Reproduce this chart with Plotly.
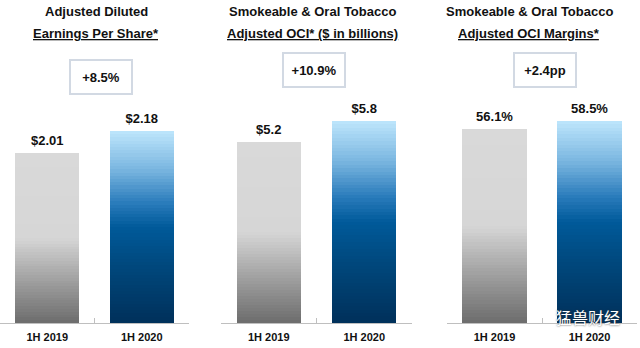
import plotly.graph_objects as go

# ---------------- data ----------------
categories = ["1H 2019", "1H 2020"]
eps_values = [2.01, 2.18]
oci_values = [5.2, 5.8]
margin_values = [56.1, 58.5]
eps_labels = ["$2.01", "$2.18"]
oci_labels = ["$5.2", "$5.8"]
margin_labels = ["56.1%", "58.5%"]
title_line1 = ["Adjusted Diluted", "Smokeable & Oral Tobacco", "Smokeable & Oral Tobacco"]
title_line2 = ["Earnings Per Share*", "Adjusted OCI* ($ in billions)", "Adjusted OCI Margins*"]
changes = ["+8.5%", "+10.9%", "+2.4pp"]

# ---------------- styling ----------------
FONT = "Arial, Liberation Sans, sans-serif"
N_SEG = 60
W, H = 640, 348

gray_stops = [(0.0, (108, 108, 108)), (0.25, (160, 160, 160)), (0.5, (214, 214, 214)), (1.0, (217, 217, 217))]
blue_stops = [(0.0, (0, 48, 90)), (0.3, (0, 72, 125)), (0.5, (0, 90, 154)), (0.62, (40, 122, 186)),
              (0.8, (122, 182, 224)), (1.0, (190, 230, 252))]


def interp(stops, f):
    for (f0, c0), (f1, c1) in zip(stops[:-1], stops[1:]):
        if f0 <= f <= f1:
            t = (f - f0) / (f1 - f0) if f1 > f0 else 0
            c = [round(a + (b - a) * t) for a, b in zip(c0, c1)]
            return "rgb(%d,%d,%d)" % tuple(c)
    c = stops[-1][1]
    return "rgb(%d,%d,%d)" % tuple(c)


panels = [
    dict(values=eps_values, labels=eps_labels, lo=0.6962, hi=2.4396, xdom=(0 / W, 189 / W), title_x=96 / W, box=(101, 77)),
    dict(values=oci_values, labels=oci_labels, lo=0.0, hi=6.477, xdom=(221 / W, 412 / W), title_x=312 / W, box=(314, 70)),
    dict(values=margin_values, labels=margin_labels, lo=0.0, hi=65.33, xdom=(447 / W, 637 / W), title_x=529 / W, box=(545, 70)),
]

ydom = ((H - 323) / H, 0.72)

fig = go.Figure()
layout_axes = {}
annotations = []

for p_i, p in enumerate(panels):
    sfx = "" if p_i == 0 else str(p_i + 1)
    xa, ya = "x" + sfx, "y" + sfx
    vals, lo = p["values"], p["lo"]
    if lo > 0:
        fig.add_trace(go.Bar(x=categories, y=[lo] * len(vals), xaxis=xa, yaxis=ya,
                             marker=dict(color="white", line=dict(width=0)),
                             showlegend=False, hoverinfo="skip"))
    for i in range(N_SEG):
        f = (i + 0.5) / N_SEG
        fig.add_trace(go.Bar(
            x=categories, y=[(v - lo) / N_SEG for v in vals], xaxis=xa, yaxis=ya,
            marker=dict(color=[interp(gray_stops, f), interp(blue_stops, f)], line=dict(width=0)),
            showlegend=False, hoverinfo="skip"))
    fig.add_trace(go.Scatter(
        x=categories, y=vals, xaxis=xa, yaxis=ya, mode="markers+text", text=p["labels"],
        marker=dict(size=6, opacity=0),
        textposition="top center", textfont=dict(family=FONT, size=13, color="#111111", weight="bold"),
        showlegend=False, hoverinfo="skip", cliponaxis=False))

    layout_axes["xaxis" + sfx] = dict(
        domain=list(p["xdom"]), anchor=ya, type="category", range=[-0.5, 1.5],
        showline=True, linecolor="#bfbfbf", linewidth=1,
        ticks="inside", tickson="boundaries", ticklen=5, tickcolor="#bfbfbf", tickwidth=1,
        tickfont=dict(family=FONT, size=11, color="#111111", weight="bold"),
        showgrid=False, zeroline=False, fixedrange=True, ticklabelstandoff=4)
    layout_axes["yaxis" + sfx] = dict(
        domain=list(ydom), anchor=xa, range=[lo, p["hi"]], visible=False,
        showgrid=False, zeroline=False, fixedrange=True)

    annotations.append(dict(
        text="<b>%s</b>" % title_line1[p_i], x=p["title_x"], y=(H - 12) / H, xref="paper", yref="paper",
        xanchor="center", yanchor="middle", showarrow=False,
        font=dict(family=FONT, size=13, color="#111111")))
    annotations.append(dict(
        text="<b><u>%s</u></b>" % title_line2[p_i], x=p["title_x"], y=(H - 33) / H, xref="paper", yref="paper",
        xanchor="center", yanchor="middle", showarrow=False,
        font=dict(family=FONT, size=13, color="#111111")))
    bx, by = p["box"]
    annotations.append(dict(
        text="<b>%s</b>" % changes[p_i], x=bx / W, y=(H - by) / H, xref="paper", yref="paper",
        xanchor="center", yanchor="middle", showarrow=False, width=58, height=30,
        bgcolor="white", bordercolor="#d2d9e3", borderwidth=2, borderpad=1,
        font=dict(family=FONT, size=13, color="#111111")))

annotations.append(dict(
    text="猛兽财经", x=588 / W, y=(H - 317) / H, xref="paper", yref="paper",
    xanchor="center", yanchor="middle", showarrow=False,
    font=dict(family="Noto Sans CJK SC", size=16, color="white", shadow="0px 0px 2px #333")))

fig.update_layout(
    width=W, height=H, margin=dict(l=0, r=0, t=0, b=0),
    paper_bgcolor="white", plot_bgcolor="white",
    barmode="stack", bargap=0.325, showlegend=False,
    annotations=annotations, **layout_axes)

fig.write_html("out.html", config={"displayModeBar": False})
